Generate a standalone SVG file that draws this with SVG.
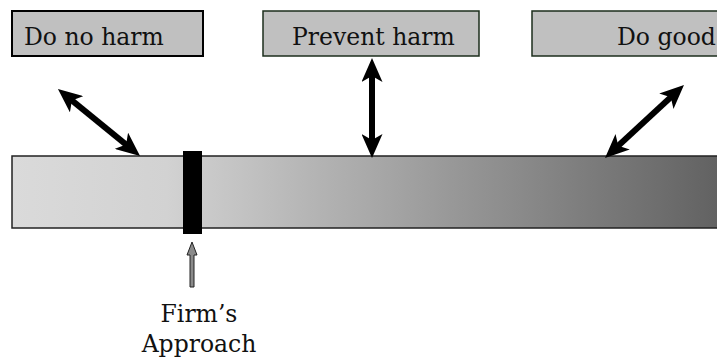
<svg xmlns="http://www.w3.org/2000/svg" width="717" height="358" viewBox="0 0 717 358">
  <style>
    .lbl { font-family: "DejaVu Serif", "Liberation Serif", serif; font-size: 23.5px; fill: #111; }
    .box { fill: #c0c0c0; stroke: #1c2e1c; stroke-width: 1.5; }
    .conn { stroke: #000; stroke-width: 6; fill: none; marker-start: url(#ah); marker-end: url(#ah); }
  </style>
  <defs>
    <linearGradient id="grad" x1="12" y1="0" x2="717" y2="0" gradientUnits="userSpaceOnUse">
      <stop offset="0" stop-color="#dadada"/>
      <stop offset="0.22" stop-color="#d2d2d2"/>
      <stop offset="1" stop-color="#626262"/>
    </linearGradient>
    <marker id="ah" viewBox="0 0 24 21" refX="10" refY="10.5" markerWidth="24" markerHeight="21" markerUnits="userSpaceOnUse" orient="auto-start-reverse">
      <path d="M0,0 L24,10.5 L0,21 L6,10.5 z" fill="#000"/>
    </marker>
  </defs>

  <g id="bar">
    <rect x="12" y="156" width="720" height="72" fill="url(#grad)" stroke="#222" stroke-width="1.5"/>
  </g>

  <g id="firm-marker">
    <rect x="183" y="151" width="19" height="83" fill="#000"/>
  </g>

  <g id="box-do-no-harm">
    <rect x="12" y="11" width="191" height="45" fill="#c0c0c0" stroke="#000" stroke-width="2"/>
    <text class="lbl" x="24" y="45">Do no harm</text>
  </g>

  <g id="box-prevent-harm">
    <rect class="box" x="263" y="11" width="216" height="45"/>
    <text class="lbl" x="292" y="45">Prevent harm</text>
  </g>

  <g id="box-do-good">
    <rect class="box" x="532" y="11" width="200" height="45"/>
    <text class="lbl" x="617" y="45">Do good</text>
  </g>

  <g id="firm-approach">
    <text class="lbl" x="199" y="322" text-anchor="middle">Firm’s</text>
    <text class="lbl" x="199" y="352" text-anchor="middle">Approach</text>
  </g>

  <g id="connectors">
    <line class="conn" x1="68.8" y1="97.9" x2="129.2" y2="147.1"/>
    <line class="conn" x1="372" y1="72" x2="372" y2="144"/>
    <line class="conn" x1="673.7" y1="94.5" x2="615.3" y2="148.5"/>
    <polygon points="192,242 197,255 194,255 194,287 190,287 190,255 187,255" fill="#8a8a8a" stroke="#222" stroke-width="1"/>
  </g>
</svg>
